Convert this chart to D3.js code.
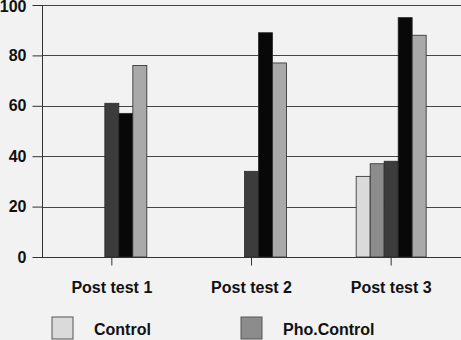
<!DOCTYPE html>
<html><head><meta charset="utf-8">
<script src="https://cdn.jsdelivr.net/npm/d3@7"></script>
<style>
html,body{margin:0;padding:0;background:#f2f2f2;overflow:hidden}
svg{display:block;font-family:"Liberation Sans",Arial,sans-serif;font-weight:bold}
</style></head>
<body>
<svg id="c" width="461" height="340"></svg>
<script>
const categories = ["Post test 1", "Post test 2", "Post test 3"];
const seriesNames = ["Control", "Pho.Control", "Series 3", "Series 4", "Series 5"];
const seriesColors = ["#dadada", "#8c8c8c", "#3c3c3c", "#080808", "#a9a9a9"];
const control = [0, 0, 32];
const phoControl = [0, 0, 37];
const series3 = [61, 34, 38];
const series4 = [57, 89, 95];
const series5 = [76, 77, 88];
const yTicks = [0, 20, 40, 60, 80, 100];
const legendVisible = ["Control", "Pho.Control"];

const values = [control, phoControl, series3, series4, series5];
const svg = d3.select("#c");
const mLeft = 42, mRight = 461, mTop = 5, mBottom = 257;

const x = d3.scaleBand().domain(categories).range([mLeft, mRight]).padding(0);
const y = d3.scaleLinear().domain([0, 100]).range([mBottom, mTop]);
const barW = 14;
const xs = d3.scaleBand().domain(seriesNames).range([0, barW * seriesNames.length]).padding(0);

// gridlines
svg.append("g").selectAll("line").data(yTicks).join("line")
  .attr("x1", mLeft).attr("x2", mRight)
  .attr("y1", d => Math.round(y(d)) + 0.5).attr("y2", d => Math.round(y(d)) + 0.5)
  .attr("stroke", "#454545").attr("stroke-width", 1);

// y axis
const ya = svg.append("g").attr("transform", `translate(${mLeft + 0.5},0)`)
  .call(d3.axisLeft(y).tickValues(yTicks).tickSize(10).tickPadding(6).tickFormat(d3.format("d")));
ya.select(".domain").attr("stroke", "#333").attr("d", `M0,${y(100)}V${y(0)}`);
ya.selectAll(".tick line").attr("stroke", "#333");
ya.selectAll("text").attr("font-size", 16).attr("font-weight", "bold").attr("fill", "#111")
  .attr("font-family", "Liberation Sans, Arial, sans-serif")
  .attr("dy", d => d === 100 ? "0.42em" : "0.32em");

// bars
const groups = svg.append("g").selectAll("g").data(categories).join("g")
  .attr("transform", d => `translate(${x(d) + x.bandwidth() / 2 - barW * seriesNames.length / 2},0)`);
groups.each(function(cat, ci) {
  const g = d3.select(this);
  seriesNames.forEach((s, si) => {
    const v = values[si][ci];
    if (!v) return;
    g.append("rect")
      .attr("x", xs(s)).attr("width", xs.bandwidth())
      .attr("y", y(v)).attr("height", y(0) - y(v))
      .attr("fill", seriesColors[si]).attr("stroke", "#2a2a2a").attr("stroke-width", 0.8);
  });
});

// x axis
const xa = svg.append("g").attr("transform", `translate(0,${Math.round(y(0)) + 0.5})`)
  .call(d3.axisBottom(x).tickSize(8).tickPadding(16));
xa.select(".domain").attr("stroke", "#333").attr("d", `M${mLeft},0H${mRight}`);
xa.selectAll(".tick line").attr("stroke", "#333");
xa.selectAll("text").attr("font-size", 16).attr("font-weight", "bold").attr("fill", "#111")
  .attr("font-family", "Liberation Sans, Arial, sans-serif");

// legend
const leg = svg.append("g").selectAll("g").data(legendVisible).join("g")
  .attr("transform", (d, i) => `translate(${52 + i * 189},317)`);
leg.append("rect").attr("width", 21).attr("height", 22)
  .attr("fill", d => seriesColors[seriesNames.indexOf(d)]).attr("stroke", "#555").attr("stroke-width", 1);
leg.append("text").attr("x", 42).attr("y", 18).attr("font-size", 16).attr("fill", "#111").text(d => d);
</script>
</body></html>
